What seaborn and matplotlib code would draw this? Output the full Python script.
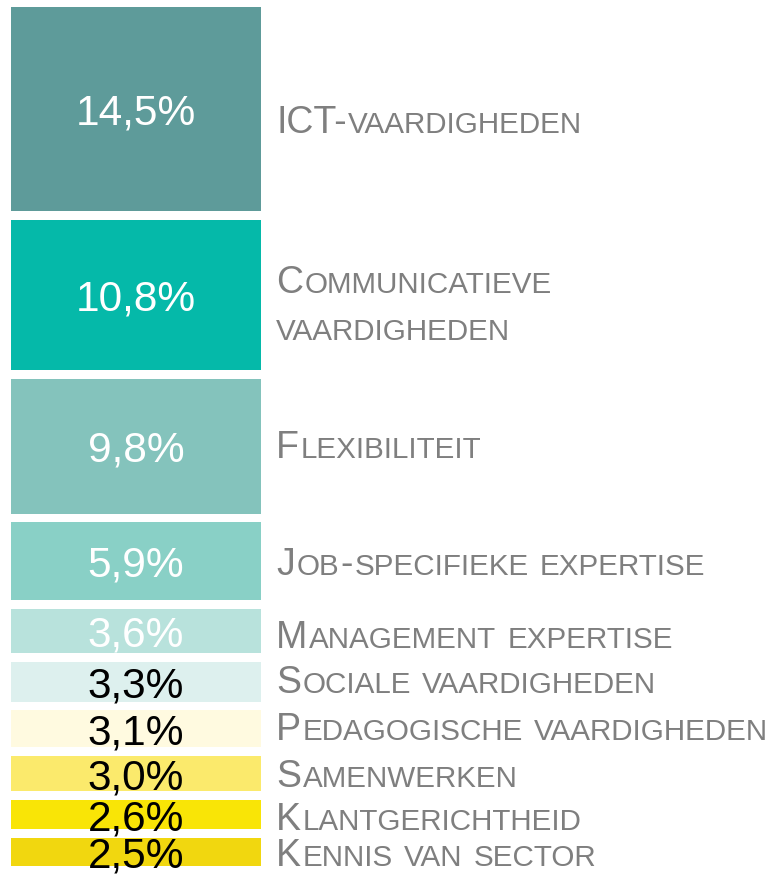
import matplotlib
matplotlib.use("Agg")
import matplotlib.pyplot as plt
from matplotlib.transforms import IdentityTransform
import numpy as np
import pandas as pd
import seaborn as sns

# ---- data (top to bottom) ----
categories = [
    "ICT-vaardigheden",
    "Communicatieve\nvaardigheden",
    "Flexibiliteit",
    "Job-specifieke expertise",
    "Management expertise",
    "Sociale vaardigheden",
    "Pedagogische vaardigheden",
    "Samenwerken",
    "Klantgerichtheid",
    "Kennis van sector",
]
values = [14.5, 10.8, 9.8, 5.9, 3.6, 3.3, 3.1, 3.0, 2.6, 2.5]
value_labels = ["14,5%", "10,8%", "9,8%", "5,9%", "3,6%", "3,3%", "3,1%", "3,0%", "2,6%", "2,5%"]
box_colors = ["#5E9B9A", "#05B9A9", "#84C3BC", "#89D0C6", "#B8E2DC",
              "#DDF0EE", "#FFFAE0", "#FBEA6C", "#F9E506", "#F1D70F"]
value_colors = ["white"] * 5 + ["black"] * 5

GAP = 0.6          # white space between boxes, in data units
GRAY = "#7F7F7F"
BIG, SMALL = 27, 21.3  # small caps font sizes
LINE_SPACING = 47    # px
# labels are not exactly centred on their boxes in the original (px, downwards)
label_nudge = [10, 8, -2, 0, 3, -2, -2, 0, 2, 1]

sns.set_theme(style="white")
plt.rcParams["font.family"] = ["Liberation Sans", "DejaVu Sans"]

fig = plt.figure(figsize=(7.72, 8.76), dpi=100)
ax = fig.add_axes([0, 0, 1, 1])

# stack from the bottom up, the smallest share lies at the bottom
bottoms = np.concatenate([[0], np.cumsum(values[::-1])[:-1]])[::-1]
df = pd.DataFrame({"cat": categories, "value": values, "bottom": bottoms})

for i, row in df.iterrows():
    sns.barplot(x=["col"], y=[row["value"] - GAP], bottom=row["bottom"],
                color=box_colors[i], saturation=1, width=1.0, linewidth=0,
                errorbar=None, ax=ax)
    ax.text(0, row["bottom"] + (row["value"] - GAP) / 2, value_labels[i],
            ha="center", va="center_baseline", fontsize=30.5, color=value_colors[i])

total = sum(values)
ax.set_xlim(-0.544, 2.544)
ax.set_ylim(-0.68, total - GAP + 0.48)
ax.axis("off")

renderer = fig.canvas.get_renderer()


def smallcaps(text, x0, y):
    """Draw text in small caps starting at display coords (x0, y baseline)."""
    x = x0
    space_w = SMALL * 100 / 72 * 0.33
    for k, word in enumerate(text.split(" ")):
        if k > 0:
            x += space_w
        runs = []
        for ch in word:
            big = not ch.islower()
            if runs and runs[-1][1] == big:
                runs[-1][0] += ch
            else:
                runs.append([ch, big])
        for s, big in runs:
            t = fig.text(x, y, s.upper(), transform=IdentityTransform(),
                         fontsize=BIG if big else SMALL, color=GRAY,
                         ha="left", va="baseline")
            x += t.get_window_extent(renderer).width + 1.5


cap_px = 0.716 * BIG * 100 / 72
for i, row in df.iterrows():
    cy = ax.transData.transform((0, row["bottom"] + (row["value"] - GAP) / 2))[1]
    cy -= label_nudge[i]
    lines = row["cat"].split("\n")
    n = len(lines)
    for k, line in enumerate(lines):
        base = cy + (n - 1) / 2 * LINE_SPACING - k * LINE_SPACING - cap_px / 2
        smallcaps(line, 276, base)

fig.savefig("out.png", dpi=100)
